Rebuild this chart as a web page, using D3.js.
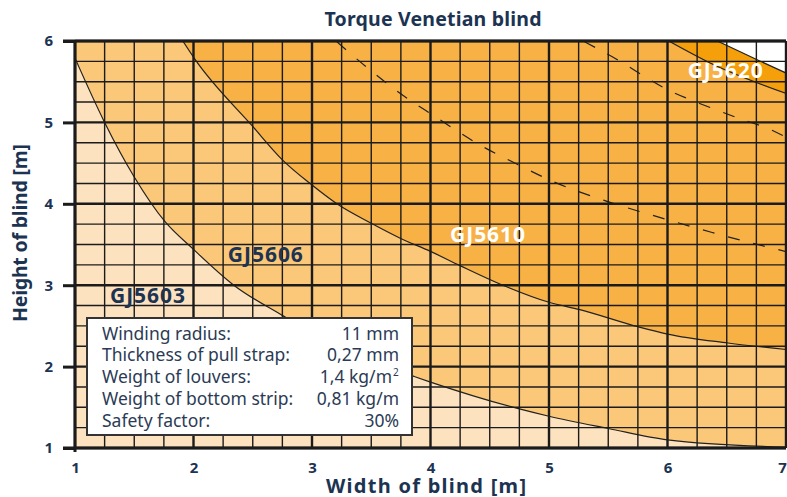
<!DOCTYPE html>
<html>
<head>
<meta charset="utf-8">
<script src="https://cdn.jsdelivr.net/npm/d3@7"></script>
<style>
  body { margin: 0; background: #fff; }
  text { font-family: "Noto Sans", Lato, sans-serif; }
</style>
</head>
<body>
<div id="viz"></div>
<script>
// limits of each motor: [width, height]
const gj5603 = [[1, 5.79], [1.25, 5.0], [1.5, 4.33], [1.76, 3.78], [2, 3.44], [2.34, 3.0], [2.76, 2.62],
  [3.25, 2.2], [3.86, 1.88], [4, 1.81], [4.75, 1.48], [5, 1.39], [5.5, 1.24], [6, 1.1], [7, 1.01]];
const gj5606 = [[1.91, 6], [2.01, 5.78], [2.5, 4.95], [2.75, 4.54], [3, 4.23], [3.21, 4.0], [3.5, 3.76],
  [3.74, 3.58], [4, 3.415], [4.25, 3.24], [4.61, 3.0], [5, 2.79], [5.26, 2.7], [5.75, 2.49], [6, 2.4],
  [6.51, 2.29], [7, 2.21]];
const gj5610 = [[6.01, 6], [6.36, 5.73], [7.01, 5.35]];
const gj5620 = [[6.42, 6], [6.77, 5.76], [7.01, 5.6]];
const dashedA = [[3.21, 5.99], [3.46, 5.68], [3.74, 5.36], [4.02, 5.09], [4.42, 4.72], [4.74, 4.48],
  [5.04, 4.27], [5.49, 4.03], [5.94, 3.83], [6.37, 3.65], [6.84, 3.47], [7.01, 3.41]];
const dashedB = [[5.3, 5.99], [5.6, 5.75], [5.8, 5.57], [5.99, 5.41], [6.19, 5.28], [6.42, 5.15],
  [6.64, 5.03], [6.84, 4.93], [7.01, 4.81]];

const xTicks = [1, 2, 3, 4, 5, 6, 7];
const yTicks = [1, 2, 3, 4, 5, 6];

const zoneLabels = [
  { name: 'GJ5603', x: 1.295, y: 2.78, dark: true },
  { name: 'GJ5606', x: 2.29, y: 3.29, dark: true },
  { name: 'GJ5610', x: 4.165, y: 3.535, dark: false },
  { name: 'GJ5620', x: 6.17, y: 5.54, dark: false },
];

const infoRows = [
  ['Winding radius:', '11 mm'],
  ['Thickness of pull strap:', '0,27 mm'],
  ['Weight of louvers:', '1,4 kg/m', '2'],
  ['Weight of bottom strip:', '0,81 kg/m'],
  ['Safety factor:', '30%'],
];

const width = 787;
const height = 497;
const navy = '#1c3352';

const svg = d3.select('#viz').append('svg')
  .attr('width', width)
  .attr('height', height);

const x = d3.scaleLinear().domain([1, 7]).range([75, 786]);
const y = d3.scaleLinear().domain([1, 6]).range([448, 41]);

svg.append('defs').append('clipPath').attr('id', 'plot')
  .append('rect')
  .attr('x', x(1)).attr('y', y(6))
  .attr('width', x(7) - x(1)).attr('height', y(1) - y(6));

const plot = svg.append('g').attr('clip-path', 'url(#plot)');

// background zones, painted lightest first
plot.append('rect')
  .attr('x', x(1)).attr('y', y(6))
  .attr('width', x(7) - x(1)).attr('height', y(1) - y(6))
  .attr('fill', '#fde2bf');

const area = d3.area()
  .x(d => x(d[0]))
  .y0(y(6))
  .y1(d => y(d[1]))
  .curve(d3.curveMonotoneX);

const zones = [
  { pts: gj5603, fill: '#fbc778' },
  { pts: gj5606, fill: '#f8b144' },
  { pts: gj5610, fill: '#f59f0a' },
  { pts: gj5620, fill: '#ffffff' },
];
zones.forEach(z => {
  plot.append('path').attr('d', area(z.pts)).attr('fill', z.fill);
});

// grid, every quarter metre
const minor = d3.range(1, 7.001, 0.25);
const minorY = d3.range(1, 6.001, 0.25);
const grid = svg.append('g');
minor.forEach(v => {
  const major = Number.isInteger(v);
  grid.append('line')
    .attr('x1', x(v)).attr('x2', x(v))
    .attr('y1', y(6)).attr('y2', y(1))
    .attr('stroke', '#1b1b1b')
    .attr('stroke-width', major ? 2.4 : 1.4);
});
minorY.forEach(v => {
  const major = Number.isInteger(v);
  grid.append('line')
    .attr('x1', x(1)).attr('x2', x(7))
    .attr('y1', y(v)).attr('y2', y(v))
    .attr('stroke', '#1b1b1b')
    .attr('stroke-width', major ? 2.4 : 1.4);
});

// limit curves
const line = d3.line()
  .x(d => x(d[0]))
  .y(d => y(d[1]))
  .curve(d3.curveMonotoneX);

[gj5603, gj5606, gj5610, gj5620].forEach(pts => {
  plot.append('path')
    .attr('d', line(pts))
    .attr('fill', 'none')
    .attr('stroke', '#222')
    .attr('stroke-width', 1.2);
});
[dashedA, dashedB].forEach(pts => {
  plot.append('path')
    .attr('d', line(pts))
    .attr('fill', 'none')
    .attr('stroke', '#222')
    .attr('stroke-width', 1.2)
    .attr('stroke-dasharray', '12,14');
});

// axes
const yAxis = d3.axisLeft(y).tickValues(yTicks).tickSize(12).tickPadding(10).tickFormat(d3.format('d'));
const xAxis = d3.axisBottom(x).tickValues(xTicks).tickSize(0).tickPadding(14).tickFormat(d3.format('d'));

const gy = svg.append('g').attr('transform', `translate(${x(1)},0)`).call(yAxis);
const gx = svg.append('g').attr('transform', `translate(0,${y(1)})`).call(xAxis);
[gx, gy].forEach(g => {
  g.select('.domain').remove();
  g.selectAll('line').attr('stroke', '#1b1b1b').attr('stroke-width', 3);
  g.selectAll('text')
    .attr('fill', navy)
    .style('font-size', '15px')
    .style('font-weight', 700);
});
// last tick label sits on the window edge
gx.selectAll('.tick text').filter(d => d === 7).attr('dx', -4);

svg.append('line')
  .attr('x1', x(1)).attr('x2', x(1))
  .attr('y1', y(6) - 1).attr('y2', y(1) + 4)
  .attr('stroke', '#1b1b1b').attr('stroke-width', 3);
svg.append('line')
  .attr('x1', x(1) - 12).attr('x2', x(7))
  .attr('y1', y(6)).attr('y2', y(6))
  .attr('stroke', '#1b1b1b').attr('stroke-width', 3);
svg.append('line')
  .attr('x1', x(1) - 12).attr('x2', x(7))
  .attr('y1', y(1)).attr('y2', y(1))
  .attr('stroke', '#1b1b1b').attr('stroke-width', 3);

// zone labels
svg.selectAll('text.zone')
  .data(zoneLabels)
  .enter().append('text')
  .attr('class', 'zone')
  .attr('x', d => x(d.x))
  .attr('y', d => y(d.y))
  .attr('fill', d => d.dark ? navy : '#ffffff')
  .attr('textLength', 75)
  .attr('lengthAdjust', 'spacing')
  .style('font-size', '21px')
  .style('font-weight', 700)
  .text(d => d.name);

// info box
const box = svg.append('g');
box.append('rect')
  .attr('x', 87).attr('y', 318)
  .attr('width', 325).attr('height', 117)
  .attr('fill', '#fff')
  .attr('stroke', '#333')
  .attr('stroke-width', 2);
infoRows.forEach((r, i) => {
  const yy = 339.5 + i * 21.8;
  box.append('text')
    .attr('x', 102).attr('y', yy)
    .attr('fill', '#2b3b55')
    .style('font-size', '17.5px')
    .text(r[0]);
  box.append('text')
    .attr('x', r[2] ? 392 : 399).attr('y', yy)
    .attr('text-anchor', 'end')
    .attr('fill', '#2b3b55')
    .style('font-size', '17.5px')
    .text(r[1]);
  if (r[2]) {
    box.append('text')
      .attr('x', 393).attr('y', yy - 7)
      .attr('fill', '#2b3b55')
      .style('font-size', '10px')
      .text(r[2]);
  }
});

// titles
svg.append('text')
  .attr('x', 433).attr('y', 26)
  .attr('text-anchor', 'middle')
  .attr('fill', navy)
  .attr('textLength', 217)
  .attr('lengthAdjust', 'spacing')
  .style('font-size', '19.5px')
  .style('font-weight', 700)
  .text('Torque Venetian blind');

svg.append('text')
  .attr('x', 426).attr('y', 492.5)
  .attr('text-anchor', 'middle')
  .attr('fill', navy)
  .attr('textLength', 200)
  .attr('lengthAdjust', 'spacing')
  .style('font-size', '20px')
  .style('font-weight', 700)
  .text('Width of blind [m]');

svg.append('text')
  .attr('transform', 'translate(27,233) rotate(-90)')
  .attr('text-anchor', 'middle')
  .attr('fill', navy)
  .attr('textLength', 178)
  .attr('lengthAdjust', 'spacing')
  .style('font-size', '19.5px')
  .style('font-weight', 700)
  .text('Height of blind [m]');
</script>
</body>
</html>
